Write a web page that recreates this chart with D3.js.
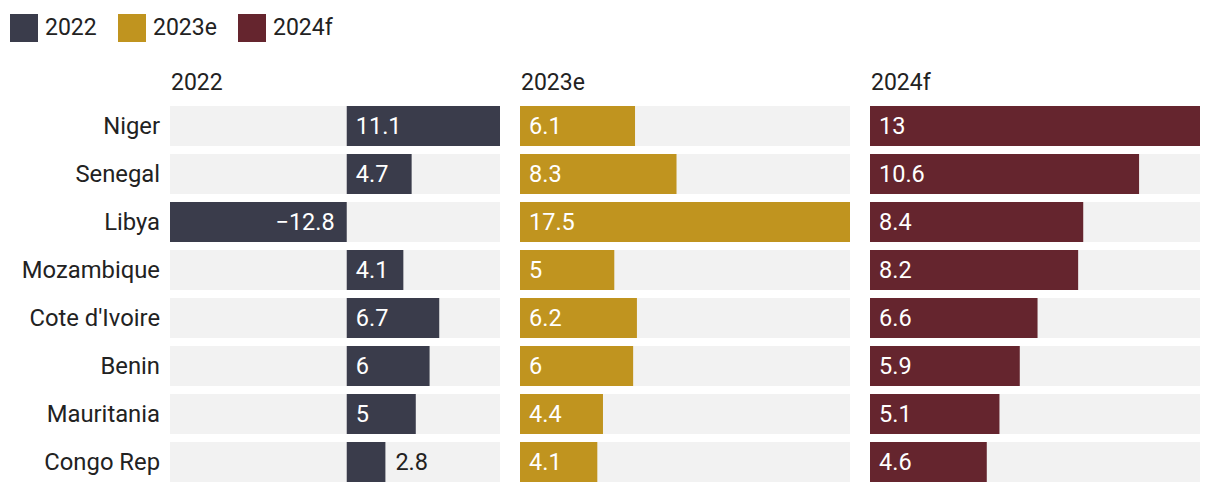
<!DOCTYPE html>
<html><head><meta charset="utf-8">
<script src="https://cdn.jsdelivr.net/npm/d3@7"></script>
<style>body{margin:0;background:#fff;font-family:Roboto,sans-serif;}</style>
</head><body><svg id="c" width="1220" height="494"></svg>
<script>
const countries = ["Niger","Senegal","Libya","Mozambique","Cote d'Ivoire","Benin","Mauritania","Congo Rep"];
const seriesNames = ["2022","2023e","2024f"];
const v2022 = [11.1,4.7,-12.8,4.1,6.7,6,5,2.8];
const v2023 = [6.1,8.3,17.5,5,6.2,6,4.4,4.1];
const v2024 = [13,10.6,8.4,8.2,6.6,5.9,5.1,4.6];
const colors = ["#3a3c4b","#c0941f","#65252e"];
const allSeries = [v2022,v2023,v2024];

const svg = d3.select("#c");
const font = "Roboto, sans-serif";

// legend
const legX = [10,118,238];
seriesNames.forEach((n,i)=>{
  const g = svg.append("g").attr("transform",`translate(${legX[i]},14)`);
  g.append("rect").attr("width",28).attr("height",28).attr("fill",colors[i]);
  g.append("text").attr("x",35).attr("y",20.5).text(n).attr("font-family",font).attr("font-size",23).attr("fill","#222");
});

const y = d3.scaleBand().domain(countries).range([102,486]).paddingInner(8/48).paddingOuter(4/48);
// country labels
svg.append("g").selectAll("text").data(countries).join("text")
  .attr("x",160).attr("y",d=>y(d)+y.bandwidth()/2).attr("dy","0.35em")
  .attr("text-anchor","end").attr("font-family",font).attr("font-size",23.8).attr("fill","#222").text(d=>d);

const panelX = [170,520,870];
const panelW = 330;
allSeries.forEach((vals,pi)=>{
  const lo = Math.min(0,d3.min(vals)), hi = Math.max(0,d3.max(vals));
  const x = d3.scaleLinear().domain([lo,hi]).range([panelX[pi],panelX[pi]+panelW]);
  const g = svg.append("g");
  g.append("text").attr("x",panelX[pi]+1).attr("y",90).text(seriesNames[pi])
    .attr("font-family",font).attr("font-size",23).attr("fill","#222");
  g.selectAll("rect.bg").data(countries).join("rect").attr("class","bg")
    .attr("x",panelX[pi]).attr("width",panelW).attr("y",d=>y(d)).attr("height",y.bandwidth()).attr("fill","#f2f2f2");
  const data = countries.map((c,i)=>({c,v:vals[i]}));
  g.selectAll("rect.bar").data(data).join("rect").attr("class","bar")
    .attr("x",d=>x(Math.min(0,d.v))).attr("width",d=>Math.abs(x(d.v)-x(0)))
    .attr("y",d=>y(d.c)).attr("height",y.bandwidth()).attr("fill",colors[pi]);
  g.selectAll("text.lbl").data(data).join("text").attr("class","lbl")
    .each(function(d){
      const w = Math.abs(x(d.v)-x(0));
      const t = d3.select(this);
      const txt = d.v<0 ? "\u2212"+Math.abs(d.v) : String(d.v);
      t.text(txt).attr("font-family",font).attr("font-size",23.5)
       .attr("y",y(d.c)+y.bandwidth()/2).attr("dy","0.35em");
      if (w < 45) {
        t.attr("x",x(d.v)+10).attr("text-anchor","start").attr("fill","#222");
      } else if (d.v<0) {
        t.attr("x",x(0)-12).attr("text-anchor","end").attr("fill","#fff");
      } else {
        t.attr("x",x(0)+9).attr("text-anchor","start").attr("fill","#fff");
      }
    });
});
</script></body></html>
